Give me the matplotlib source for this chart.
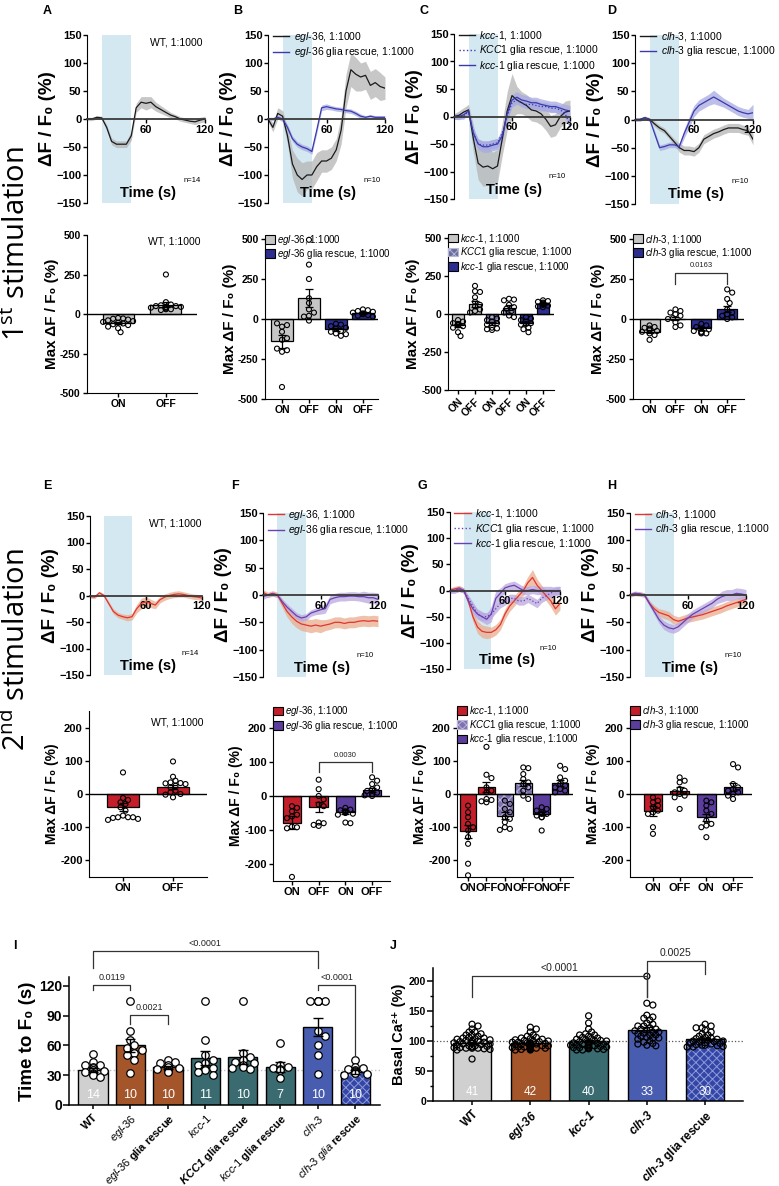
import matplotlib
matplotlib.use("Agg")
import matplotlib.pyplot as plt
import numpy as np
from matplotlib.lines import Line2D
from matplotlib.patches import Patch

plt.rcParams['font.family'] = ['Liberation Sans', 'DejaVu Sans']
plt.rcParams['mathtext.fontset'] = 'custom'
plt.rcParams['mathtext.rm'] = 'Liberation Sans'
plt.rcParams['mathtext.it'] = 'Liberation Sans:italic'
plt.rcParams['mathtext.bf'] = 'Liberation Sans:bold'
plt.rcParams['mathtext.bfit'] = 'Liberation Sans:italic:bold'
plt.rcParams['hatch.linewidth'] = 0.7

W, H = 779, 1186

# ---------------- colours ----------------
SHADE = '#d4e8f1'
BLACK_LINE, GRAY_BAND = '#1a1a1a', '#b5b5b5'
BLUE_LINE, BLUE_BAND = '#3a3aad', '#a7aae2'
RED_LINE, RED_BAND = '#e3342f', '#e9ad8e'
PURPLE_LINE, PURPLE_BAND = '#6842b0', '#b9a8e0'
GRAY_BAR, BLUE_BAR = '#c6c6c6', '#2b2e8c'
RED_BAR, PURPLE_BAR = '#c41e2a', '#5a3d9c'
WT_C, BROWN, TEAL, CLH_BLUE = '#d0d0d0', '#a5552a', '#3a6b70', '#485cb0'

# ---------------- trace data (time in s, dF/F0 in %) ----------------
TIME_S = [0, 5, 10, 15, 20, 25, 30, 35, 40, 45, 50, 55, 60, 65, 70, 75, 80, 85, 90, 95, 100, 105, 110, 115, 120]

A_WT = [0, 0, 3, 2, -15, -40, -45, -45, -45, -30, 20, 30, 28, 30, 22, 17, 12, 7, 4, 0, -2, -4, -5, -2, 0]
A_WT_SEM = [3, 3, 3, 3, 5, 6, 6, 6, 6, 8, 8, 10, 12, 10, 8, 7, 6, 5, 4, 4, 4, 4, 5, 5, 5]

B_MUT = [0, -15, 10, 5, -30, -80, -100, -108, -100, -100, -85, -75, -75, -70, -55, -20, 50, 88, 80, 75, 78, 60, 65, 58, 55]
B_MUT_SEM = [5, 8, 10, 10, 15, 25, 30, 30, 25, 25, 25, 20, 20, 20, 20, 25, 30, 30, 30, 25, 25, 25, 25, 25, 20]
B_RES = [0, 0, 3, 0, -15, -35, -45, -50, -53, -58, -20, 20, 22, 20, 18, 17, 15, 14, 10, 5, 3, 5, 3, 3, 3]
B_RES_SEM = [3, 3, 3, 3, 5, 5, 5, 5, 5, 5, 6, 5, 5, 4, 4, 4, 4, 4, 4, 4, 3, 3, 3, 3, 3]

C_MUT = [0, 2, 8, 12, -40, -85, -92, -90, -95, -90, -40, 10, 38, 30, 25, 20, 12, 10, 5, -5, -18, -15, 0, 8, 10]
C_MUT_SEM = [5, 8, 8, 10, 25, 30, 35, 35, 30, 30, 30, 35, 40, 25, 20, 20, 20, 20, 20, 20, 20, 20, 20, 20, 20]
C_KCC1 = [0, 0, 0, 10, -30, -50, -52, -52, -50, -48, -30, 0, 25, 30, 25, 22, 22, 20, 18, 18, 15, 15, 12, 5, -15]
C_KCC1_SEM = [5, 5, 5, 5, 8, 8, 8, 8, 8, 8, 8, 8, 8, 8, 8, 8, 8, 8, 8, 8, 8, 8, 8, 8, 8]
C_RES = [0, 0, 3, 10, -30, -50, -55, -55, -52, -50, -35, 5, 30, 35, 30, 28, 25, 25, 22, 20, 18, 18, 15, 12, 10]
C_RES_SEM = [5, 5, 5, 5, 10, 10, 10, 10, 10, 10, 10, 10, 10, 10, 10, 10, 10, 10, 10, 10, 10, 10, 10, 10, 10]

D_MUT = [0, 0, 3, 0, -8, -15, -20, -30, -40, -50, -55, -55, -57, -50, -35, -30, -25, -22, -18, -15, -15, -15, -18, -20, -35]
D_MUT_SEM = [3, 3, 3, 3, 5, 5, 5, 5, 6, 8, 8, 8, 8, 8, 8, 8, 8, 8, 8, 8, 8, 8, 8, 8, 10]
D_RES = [0, 0, 3, 0, -25, -50, -48, -45, -45, -48, -25, -5, 15, 25, 30, 35, 40, 35, 30, 25, 20, 15, 12, 10, 12]
D_RES_SEM = [3, 3, 3, 3, 5, 5, 5, 5, 5, 5, 8, 10, 10, 10, 10, 10, 12, 10, 8, 8, 8, 8, 8, 8, 15]

E_WT = [-2, -3, 5, 0, -15, -30, -37, -40, -42, -40, -25, -15, -12, -15, -18, -8, -3, 0, 2, 3, 2, 0, -2, -3, -5]
E_WT_SEM = [3, 3, 3, 3, 4, 5, 5, 5, 6, 6, 8, 10, 10, 8, 7, 6, 6, 6, 6, 6, 5, 5, 5, 5, 5]

F_MUT = [5, 0, 3, 0, -15, -30, -40, -48, -53, -55, -57, -55, -57, -55, -53, -50, -50, -52, -50, -50, -48, -47, -48, -47, -48]
F_MUT_SEM = [5, 5, 5, 5, 8, 10, 12, 12, 12, 12, 12, 12, 12, 10, 10, 10, 10, 10, 10, 10, 10, 10, 10, 10, 10]
F_RES = [-3, 0, 2, 0, -12, -22, -30, -38, -42, -40, -33, -30, -27, -25, -8, -5, -3, -3, -2, -2, -3, -3, -5, -5, -8]
F_RES_SEM = [5, 4, 4, 4, 5, 6, 6, 6, 6, 6, 6, 6, 8, 8, 8, 8, 8, 8, 8, 8, 8, 10, 10, 10, 12]

G_MUT = [0, 3, 5, 0, -20, -50, -70, -78, -80, -80, -75, -65, -45, -30, -20, -10, 0, 15, 25, 10, 0, -10, -20, -35, -25]
G_MUT_SEM = [5, 5, 5, 5, 8, 10, 12, 12, 12, 10, 10, 10, 10, 10, 10, 10, 10, 12, 15, 12, 10, 10, 12, 12, 12]
G_KCC1 = [0, 0, 3, 0, -15, -30, -45, -50, -50, -45, -35, -25, -20, -15, -15, -20, -20, -15, -20, -25, -15, -10, -5, 0, 0]
G_KCC1_SEM = [5, 5, 5, 5, 6, 8, 8, 8, 8, 8, 8, 8, 8, 8, 8, 8, 8, 8, 8, 8, 8, 8, 8, 8, 8]
G_RES = [0, 0, 3, 0, -20, -35, -45, -50, -55, -45, -15, -5, 5, 8, 10, 5, 0, 0, 2, 0, 0, 0, 0, -2, 0]
G_RES_SEM = [5, 5, 5, 5, 8, 10, 10, 10, 10, 15, 15, 10, 8, 8, 8, 8, 8, 8, 8, 8, 8, 8, 8, 8, 8]

H_MUT = [0, 3, 2, 0, -15, -25, -32, -35, -38, -45, -48, -45, -42, -40, -38, -36, -33, -30, -27, -24, -20, -17, -14, -11, -8]
H_MUT_SEM = [4, 4, 4, 4, 5, 6, 7, 8, 8, 8, 8, 8, 8, 8, 8, 8, 8, 8, 8, 8, 8, 8, 8, 8, 8]
H_RES = [0, 3, 2, 0, -15, -30, -45, -55, -60, -62, -58, -50, -42, -35, -30, -25, -20, -15, -8, -3, 0, 0, 3, 2, 0]
H_RES_SEM = [4, 4, 4, 4, 5, 6, 7, 8, 8, 8, 8, 8, 8, 8, 8, 8, 8, 8, 8, 10, 10, 10, 10, 10, 10]

# ---------------- max dF/F0 bar data ----------------
ONOFF2 = ['ON', 'OFF']
ONOFF4 = ['ON', 'OFF', 'ON', 'OFF']
ONOFF6 = ['ON', 'OFF', 'ON', 'OFF', 'ON', 'OFF']

A_MEANS = [-56, 59]
A_SEMS = [8, 15]
A_PTS = [[-25, -28, -30, -35, -40, -45, -50, -55, -60, -65, -70, -80, -90, -115],
         [250, 75, 60, 55, 50, 50, 45, 45, 40, 40, 35, 30, 30, 25]]

B_MEANS = [-140, 130, -65, 35]
B_SEMS = [40, 55, 8, 6]
B_PTS = [[-425, -205, -195, -185, -130, -120, -80, -48, -38, -27],
         [495, 340, 250, 130, 100, 60, 40, 20, 15, -10],
         [-30, -35, -45, -55, -60, -75, -80, -90, -95, -105],
         [60, 55, 50, 45, 40, 35, 30, 25, 20, 15]]

C_MEANS = [-73, 64, -62, 42, -62, 66]
C_SEMS = [10, 20, 12, 15, 12, 8]
C_PTS = [[-40, -50, -60, -65, -70, -75, -80, -90, -120, -145],
         [185, 150, 145, 110, 80, 60, 50, 30, 20, 10],
         [-20, -30, -40, -50, -60, -70, -90, -95, -100, -105],
         [100, 95, 90, 60, 45, 35, 20, 10, -10, -20],
         [-20, -30, -40, -50, -60, -65, -70, -90, -100, -120],
         [90, 85, 80, 75, 70, 65, 60, 55, 50, 45]]

D_MEANS = [-80, 2, -59, 61]
D_SEMS = [10, 10, 10, 20]
D_PTS = [[-40, -50, -55, -60, -70, -75, -80, -90, -100, -130],
         [60, 50, 40, 30, 20, 5, 0, -20, -40, -50],
         [-30, -40, -50, -60, -65, -75, -80, -85, -90, -90],
         [185, 165, 125, 100, 60, 40, 30, 20, 10, 0]]

E_MEANS = [-38, 22]
E_SEMS = [12, 6]
E_PTS = [[65, -12, -18, -25, -30, -40, -50, -65, -70, -70, -70, -72, -75, -78],
         [98, 52, 40, 35, 33, 32, 30, 25, 20, 10, 5, 0, -2, -10]]

F_MEANS = [-78, -33, -47, 18]
F_SEMS = [18, 15, 5, 5]
F_PTS = [[-30, -35, -45, -55, -60, -65, -90, -92, -95, -238],
         [48, 20, 0, -10, -25, -30, -78, -80, -85, -88],
         [-35, -40, -42, -45, -48, -50, -52, -55, -78, -80],
         [55, 45, 35, 25, 20, 15, 10, 5, 2, 0]]

G_MEANS = [-112, 20, -65, 33, -59, 33]
G_SEMS = [20, 15, 10, 10, 5, 10]
G_PTS = [[-35, -55, -70, -90, -100, -110, -130, -150, -210, -245],
         [142, 58, 48, 20, 10, 5, -15, -18, -22, -25],
         [-20, -30, -45, -55, -70, -75, -85, -100, -105, -108],
         [80, 78, 60, 45, 35, 30, 20, 10, -5, -15],
         [-40, -45, -50, -55, -60, -60, -65, -70, -70, -110],
         [85, 75, 50, 40, 30, 25, 20, 15, 10, 5]]

H_MEANS = [-50, 10, -70, 22]
H_SEMS = [15, 10, 10, 12]
H_PTS = [[-10, -20, -25, -35, -40, -50, -55, -60, -100, -120],
         [50, 40, 35, 15, 10, 5, 0, -5, -10, -45],
         [-20, -25, -35, -50, -60, -80, -90, -95, -100, -130],
         [90, 80, 30, 20, 15, 10, 5, 0, -5, -15]]

# ---------------- panel I: time to F0 ----------------
I_LABELS = [r'WT', r'$\mathit{egl}$-$\mathit{36}$', r'$\mathit{egl}$-$\mathit{36}$ glia rescue',
            r'$\mathit{kcc}$-$\mathit{1}$', r'$\mathbfit{KCC1}$ glia rescue',
            r'$\mathit{kcc}$-$\mathit{1}$ glia rescue', r'$\mathit{clh}$-$\mathit{3}$',
            r'$\mathit{clh}$-$\mathit{3\ glia}$ rescue']
I_MEANS = [35, 60, 38, 47, 48, 38, 79, 33]
I_SEMS = [2, 7, 1.5, 7, 7, 5, 9, 2]
I_PTS = [[51, 43, 40, 40, 38, 37, 35, 35, 34, 33, 32, 31, 30, 28],
         [105, 75, 66, 60, 57, 55, 52, 50, 45, 32],
         [45, 43, 42, 40, 38, 37, 36, 35, 34, 33],
         [105, 66, 50, 45, 42, 40, 37, 36, 35, 33, 30],
         [105, 52, 48, 45, 43, 42, 40, 38, 37, 36],
         [62, 40, 38, 37, 36, 35, 27],
         [105, 105, 105, 105, 105, 75, 70, 60, 50, 31],
         [45, 38, 37, 36, 35, 34, 33, 32, 31, 30]]

# ---------------- panel J: basal Ca2+ ----------------
J_LABELS = [r'WT', r'$\mathbfit{egl}$-$\mathbfit{36}$', r'$\mathbfit{kcc}$-$\mathbfit{1}$',
            r'$\mathbfit{clh}$-$\mathbfit{3}$', r'$\mathbfit{clh}$-$\mathbfit{3}$ glia rescue']
J_MEANS = [97, 96, 100, 119, 103]
J_SEMS = [1.5, 1.2, 1.7, 4.5, 2]
J_PTS = [[128, 125, 120, 115, 115, 112, 110, 110, 108, 106, 105, 105, 104, 103, 102, 101, 100, 100, 99, 98,
          97, 97, 96, 95, 95, 94, 93, 92, 92, 91, 90, 90, 89, 89, 88, 88, 88, 87, 86, 85, 70],
         [123, 120, 115, 110, 108, 106, 105, 104, 103, 102, 101, 100, 100, 99, 98, 98, 97, 97, 96, 96,
          95, 95, 94, 94, 93, 93, 92, 92, 91, 91, 90, 90, 89, 89, 88, 88, 87, 87, 86, 86, 85, 85],
         [142, 130, 120, 115, 112, 110, 110, 108, 106, 105, 104, 103, 102, 101, 100, 100, 99, 98, 97, 97,
          96, 95, 95, 94, 93, 93, 92, 92, 91, 90, 90, 89, 89, 88, 88, 87, 87, 86, 85, 85],
         [208, 163, 160, 143, 140, 138, 135, 130, 128, 125, 125, 122, 120, 120, 118, 117, 115, 115, 113, 112,
          110, 110, 108, 106, 105, 105, 103, 100, 98, 96, 95, 93, 92],
         [128, 125, 122, 122, 118, 115, 112, 110, 108, 106, 105, 104, 103, 102, 101, 100, 100, 99, 98, 97,
          96, 96, 95, 94, 93, 93, 92, 91, 90, 90]]

fig = plt.figure(figsize=(W / 100, H / 100), dpi=100)


def add_ax(box):
    l, t, r, b = box
    return fig.add_axes([l / W, 1 - b / H, (r - l) / W, (b - t) / H])


def bold_ticks(ax):
    for lab in ax.get_xticklabels() + ax.get_yticklabels():
        lab.set_fontweight('bold')


def swarm(vals, xs, ys, diam, limit, sep=0.9):
    # simple beeswarm: xs/ys are pixels per data unit
    placed, offs = [], []
    steps = [0]
    for k in range(1, 14):
        steps += [k, -k]
    for v in vals:
        chosen = 0.0
        for k in steps:
            dx = k * diam * 0.5 / xs
            if abs(dx) > limit:
                continue
            if all(((v - pv) * ys) ** 2 + ((dx - po) * xs) ** 2 >= (diam * sep) ** 2 for pv, po in placed):
                chosen = dx
                break
        placed.append((v, chosen))
        offs.append(chosen)
    return np.array(offs)


def draw_trace(box, series, legend=None, note=None, n_text='n=10'):
    ax = add_ax(box)
    ax.axvspan(15, 45, color=SHADE, lw=0, zorder=0)
    handles = []
    for vals, sem, lc, bc, ls in series:
        v = np.asarray(vals, float)
        s = np.asarray(sem, float)
        ax.fill_between(TIME_S, v - s, v + s, color=bc, alpha=0.75, lw=0, zorder=1)
        ax.plot(TIME_S, v, color=lc, lw=0.9, ls=ls, zorder=2)
        handles.append(Line2D([], [], color=lc, lw=1.0, ls=ls))
    ax.set_xlim(0, 120)
    ax.set_ylim(-150, 150)
    ax.spines['top'].set_visible(False)
    ax.spines['right'].set_visible(False)
    ax.spines['bottom'].set_position(('data', 0))
    ax.spines['bottom'].set_color('#3a3a3a')
    ax.spines['bottom'].set_linewidth(1.3)
    ax.spines['bottom'].set_zorder(3)
    ax.set_xticks([60, 120])
    ax.set_yticks([-150, -100, -50, 0, 50, 100, 150])
    ax.tick_params(labelsize=8, width=1, length=3, pad=1)
    bold_ticks(ax)
    ax.set_ylabel('ΔF / F₀ (%)', fontsize=13.5, fontweight='bold', labelpad=0)
    ax.text(62, -133, 'Time (s)', ha='center', va='center', fontsize=10.5, fontweight='bold', zorder=5)
    ax.text(107, -110, n_text, ha='center', va='center', fontsize=5.5)
    if note:
        ax.text(91, 136, note, ha='center', va='center', fontsize=7.5)
    if legend:
        ax.legend(handles, legend, loc='upper left', bbox_to_anchor=(0.04, 1.03), frameon=False,
                  fontsize=7.5, handlelength=1.6, handletextpad=0.4, labelspacing=0.12,
                  borderaxespad=0, borderpad=0)
    return ax


def draw_bars(box, means, sems, points, styles, xlim, ylim, yticks, width, xlabels,
              legend=None, note=None, rotate=False, ylab_fs=11, tick_fs=7.5, dot_px=5.0):
    ax = add_ax(box)
    l, t, r, b = box
    xs = (r - l) / (xlim[1] - xlim[0])
    ys = (b - t) / (ylim[1] - ylim[0])
    for i, (m, s, pts, st) in enumerate(zip(means, sems, points, styles)):
        face, hatch, hcol = st
        if hatch:
            ax.bar(i, m, width, color=face, edgecolor=hcol, hatch=hatch, lw=0, zorder=1)
            ax.bar(i, m, width, fill=False, edgecolor='black', lw=0.9, zorder=2)
        else:
            ax.bar(i, m, width, color=face, edgecolor='black', lw=0.9, zorder=1)
        offs = swarm(pts, xs, ys, dot_px, width * 0.5)
        ax.scatter(i + offs, pts, s=(dot_px * 0.72) ** 2, facecolor='none', edgecolor='black',
                   lw=0.8, zorder=4, clip_on=False)
        ax.errorbar(i, m, yerr=s, fmt='none', ecolor='black', elinewidth=0.9, capsize=3,
                    capthick=0.9, zorder=5)
    ax.axhline(0, color='black', lw=1.0, zorder=3)
    ax.set_xlim(*xlim)
    ax.set_ylim(*ylim)
    ax.spines['top'].set_visible(False)
    ax.spines['right'].set_visible(False)
    ax.set_xticks(range(len(means)))
    ax.set_yticks(yticks)
    ax.set_yticklabels([str(v) for v in yticks])
    if rotate:
        ax.set_xticklabels(xlabels, rotation=45, ha='right', rotation_mode='anchor')
    else:
        ax.set_xticklabels(xlabels)
    ax.tick_params(labelsize=tick_fs, width=1, length=3, pad=1.5)
    bold_ticks(ax)
    ax.set_ylabel('Max ΔF / F₀ (%)', fontsize=ylab_fs, fontweight='bold', labelpad=1)
    if note:
        ax.text(note[0], note[1], note[2], transform=ax.transAxes, ha='center', va='center', fontsize=7.5)
    if legend:
        handles = []
        for face, hatch, hcol in legend[0]:
            if hatch:
                handles.append(Patch(facecolor=face, edgecolor=hcol, hatch=hatch, lw=0.8))
            else:
                handles.append(Patch(facecolor=face, edgecolor='black', lw=0.8))
        ax.legend(handles, legend[1], loc='upper left', bbox_to_anchor=(0.0, 1.04), frameon=False,
                  fontsize=7, handlelength=1.0, handleheight=1.0, handletextpad=0.2,
                  labelspacing=0.05, borderaxespad=0, borderpad=0)
    return ax


def bracket(ax, x1, x2, y, y1, y2, text, fs, gap):
    ax.plot([x1, x1, x2, x2], [y1, y, y, y2], color='#333333', lw=0.9, clip_on=False, zorder=6)
    ax.text((x1 + x2) / 2, y + gap, text, ha='center', va='bottom', fontsize=fs, color='#222222',
            clip_on=False)


# ---------------- row 1 traces ----------------
draw_trace((87, 35, 205, 203), [(A_WT, A_WT_SEM, BLACK_LINE, GRAY_BAND, '-')], note='WT, 1:1000', n_text='n=14')
draw_trace((268, 35, 385, 203),
           [(B_MUT, B_MUT_SEM, BLACK_LINE, GRAY_BAND, '-'), (B_RES, B_RES_SEM, BLUE_LINE, BLUE_BAND, '-')],
           legend=[r'$\mathit{egl}$-$\mathit{36}$, 1:1000', r'$\mathit{egl}$-$\mathit{36}$ glia rescue, 1:1000'])
draw_trace((454, 34, 570, 199),
           [(C_MUT, C_MUT_SEM, BLACK_LINE, GRAY_BAND, '-'), (C_KCC1, C_KCC1_SEM, BLUE_LINE, BLUE_BAND, ':'),
            (C_RES, C_RES_SEM, BLUE_LINE, BLUE_BAND, '-')],
           legend=[r'$\mathit{kcc}$-$\mathit{1}$, 1:1000', r'$\mathit{KCC1}$ glia rescue, 1:1000',
                   r'$\mathit{kcc}$-$\mathit{1}$ glia rescue, 1:1000'])
draw_trace((635, 35, 753, 204),
           [(D_MUT, D_MUT_SEM, BLACK_LINE, GRAY_BAND, '-'), (D_RES, D_RES_SEM, BLUE_LINE, BLUE_BAND, '-')],
           legend=[r'$\mathit{clh}$-$\mathit{3}$, 1:1000', r'$\mathit{clh}$-$\mathit{3}$ glia rescue, 1:1000'])

# ---------------- row 1 bars ----------------
GR = (GRAY_BAR, None, None)
BL = (BLUE_BAR, None, None)
CK1 = ('#6c6f9e', 'xxxx', '#b4b7d6')
Y1 = [-500, -250, 0, 250, 500]
draw_bars((87, 235, 197, 393), A_MEANS, A_SEMS, A_PTS, [GR, GR], (-0.65, 1.65), (-500, 500), Y1, 0.65,
          ONOFF2, note=(0.79, 0.96, 'WT, 1:1000'))
draw_bars((265, 239, 378, 399), B_MEANS, B_SEMS, B_PTS, [GR, GR, BL, BL], (-0.63, 3.56), (-500, 500), Y1, 0.8,
          ONOFF4, legend=([GR, BL], [r'$\mathit{egl}$-$\mathit{36}$, 1:1000',
                                     r'$\mathit{egl}$-$\mathit{36}$ glia rescue, 1:1000']))
draw_bars((448, 238, 554, 390), C_MEANS, C_SEMS, C_PTS, [GR, GR, CK1, CK1, BL, BL], (-0.59, 5.65), (-500, 500),
          Y1, 0.68, ONOFF6, rotate=True,
          legend=([GR, CK1, BL], [r'$\mathit{kcc}$-$\mathit{1}$, 1:1000', r'$\mathit{KCC1}$ glia rescue, 1:1000',
                                  r'$\mathit{kcc}$-$\mathit{1}$ glia rescue, 1:1000']))
axD = draw_bars((633, 239, 744, 399), D_MEANS, D_SEMS, D_PTS, [GR, GR, BL, BL], (-0.64, 3.65), (-500, 500), Y1,
                0.77, ONOFF4, legend=([GR, BL], [r'$\mathit{clh}$-$\mathit{3}$, 1:1000',
                                                r'$\mathit{clh}$-$\mathit{3}$ glia rescue, 1:1000']))
bracket(axD, 1, 3, 287, 220, 220, '0.0163', 5.5, 25)

# ---------------- row 2 traces ----------------
draw_trace((90, 516, 202, 675), [(E_WT, E_WT_SEM, RED_LINE, RED_BAND, '-')], note='WT, 1:1000', n_text='n=14')
draw_trace((263, 513, 378, 677),
           [(F_MUT, F_MUT_SEM, RED_LINE, RED_BAND, '-'), (F_RES, F_RES_SEM, PURPLE_LINE, PURPLE_BAND, '-')],
           legend=[r'$\mathit{egl}$-$\mathit{36}$, 1:1000', r'$\mathit{egl}$-$\mathit{36}$ glia rescue, 1:1000'])
draw_trace((450, 512, 560, 669),
           [(G_MUT, G_MUT_SEM, RED_LINE, RED_BAND, '-'), (G_KCC1, G_KCC1_SEM, PURPLE_LINE, PURPLE_BAND, ':'),
            (G_RES, G_RES_SEM, PURPLE_LINE, PURPLE_BAND, '-')],
           legend=[r'$\mathit{kcc}$-$\mathit{1}$, 1:1000', r'$\mathit{KCC1}$ glia rescue, 1:1000',
                   r'$\mathit{kcc}$-$\mathit{1}$ glia rescue, 1:1000'])
draw_trace((630, 513, 746, 677),
           [(H_MUT, H_MUT_SEM, RED_LINE, RED_BAND, '-'), (H_RES, H_RES_SEM, PURPLE_LINE, PURPLE_BAND, '-')],
           legend=[r'$\mathit{clh}$-$\mathit{3}$, 1:1000', r'$\mathit{clh}$-$\mathit{3}$ glia rescue, 1:1000'])

# ---------------- row 2 bars ----------------
RD = (RED_BAR, None, None)
PU = (PURPLE_BAR, None, None)
CK2 = ('#7d72ad', 'xxxx', '#bdb4dc')
Y2 = [-200, -100, 0, 100, 200]
draw_bars((89, 711, 207, 877), E_MEANS, E_SEMS, E_PTS, [RD, RD], (-0.68, 1.68), (-250, 250), Y2, 0.65,
          ONOFF2, note=(0.745, 0.93, 'WT, 1:1000'), ylab_fs=10, tick_fs=8)
axF = draw_bars((273, 711, 390, 881), F_MEANS, F_SEMS, F_PTS, [RD, RD, PU, PU], (-0.71, 3.67), (-250, 250), Y2,
                0.69, ONOFF4, ylab_fs=10, tick_fs=8,
                legend=([RD, PU], [r'$\mathit{egl}$-$\mathit{36}$, 1:1000',
                                   r'$\mathit{egl}$-$\mathit{36}$ glia rescue, 1:1000']))
bracket(axF, 1, 3, 100, 72, 72, '0.0030', 5.5, 8)
draw_bars((457, 711, 573, 877), G_MEANS, G_SEMS, G_PTS, [RD, RD, CK2, CK2, PU, PU], (-0.6, 5.7), (-250, 250),
          Y2, 0.9, ONOFF6, ylab_fs=10, tick_fs=8,
          legend=([RD, CK2, PU], [r'$\mathit{kcc}$-$\mathit{1}$, 1:1000', r'$\mathit{KCC1}$ glia rescue, 1:1000',
                                  r'$\mathit{kcc}$-$\mathit{1}$ glia rescue, 1:1000']))
draw_bars((630, 711, 752, 877), H_MEANS, H_SEMS, H_PTS, [RD, RD, PU, PU], (-0.86, 3.71), (-250, 250), Y2,
          0.69, ONOFF4, ylab_fs=10, tick_fs=8,
          legend=([RD, PU], [r'$\mathit{clh}$-$\mathit{3}$, 1:1000',
                             r'$\mathit{clh}$-$\mathit{3}$ glia rescue, 1:1000']))


# ---------------- panels I and J ----------------
def draw_summary(box, means, sems, points, styles, xlim, ylim, width, dot_px, n_y, n_fs, dot_face, sep):
    ax = add_ax(box)
    l, t, r, b = box
    xs = (r - l) / (xlim[1] - xlim[0])
    ys = (b - t) / (ylim[1] - ylim[0])
    for i, (m, s, pts, st) in enumerate(zip(means, sems, points, styles)):
        face, hatch, hcol = st
        if hatch:
            ax.bar(i, m, width, color=face, edgecolor=hcol, hatch=hatch, lw=0, zorder=1)
            ax.bar(i, m, width, fill=False, edgecolor='black', lw=1.0, zorder=2)
        else:
            ax.bar(i, m, width, color=face, edgecolor='black', lw=1.0, zorder=1)
        offs = swarm(pts, xs, ys, dot_px, width * 0.5, sep)
        ax.scatter(i + offs, pts, s=(dot_px * 0.72) ** 2, facecolor=dot_face, edgecolor='black',
                   lw=0.9, zorder=4, clip_on=False)
        ax.errorbar(i, m, yerr=s, fmt='none', ecolor='black', elinewidth=1.0, capsize=3.5,
                    capthick=1.0, zorder=5)
        ax.text(i, n_y, str(len(pts)), ha='center', va='center', color='white', fontsize=n_fs, zorder=6)
    ax.set_xlim(*xlim)
    ax.set_ylim(*ylim)
    ax.spines['top'].set_visible(False)
    ax.spines['right'].set_visible(False)
    ax.spines['left'].set_linewidth(1.1)
    ax.spines['bottom'].set_linewidth(1.1)
    ax.set_xticks(range(len(means)))
    return ax


CKB = ('#3346a6', 'xxxx', '#8f9ad8')
axI = draw_summary((69, 977, 380, 1105), I_MEANS, I_SEMS, I_PTS,
                   [(WT_C, None, None), (BROWN, None, None), (BROWN, None, None), (TEAL, None, None),
                    (TEAL, None, None), (TEAL, None, None), (CLH_BLUE, None, None), CKB],
                   (-0.64, 7.66), (0, 129), 0.78, 7.5, 10, 9, 'white', 0.9)
axI.axhline(I_MEANS[0], color='#c0c0c0', lw=1.0, ls=':', zorder=0)
axI.set_yticks([0, 30, 60, 90, 120])
axI.set_xticklabels(I_LABELS, rotation=45, ha='right', rotation_mode='anchor')
axI.tick_params(axis='y', labelsize=10, width=1.1, length=4, pad=1)
axI.tick_params(axis='x', labelsize=8, width=1.1, length=3, pad=2)
bold_ticks(axI)
axI.set_ylabel('Time to F₀ (s)', fontsize=13.5, fontweight='bold', labelpad=2)
bracket(axI, 0, 6, 155, 138, 138, '<0.0001', 6.5, 3)
bracket(axI, 0, 1, 121, 116, 116, '0.0119', 6.5, 3)
bracket(axI, 1, 2, 91, 82, 82, '0.0021', 6.5, 3)
bracket(axI, 6, 7, 121, 116, 49, '<0.0001', 6.5, 3)

axJ = draw_summary((433, 968, 743, 1101), J_MEANS, J_SEMS, J_PTS,
                   [(WT_C, None, None), (BROWN, None, None), (TEAL, None, None), (CLH_BLUE, None, None), CKB],
                   (-0.67, 4.65), (0, 221.7), 0.66, 6.0, 15, 8.5, 'none', 0.6)
axJ.axhline(100, color='#555555', lw=0.9, ls=':', zorder=3)
axJ.set_yticks([0, 50, 100, 150, 200])
axJ.set_yticks([25, 75, 125, 175], minor=True)
axJ.set_xticklabels(J_LABELS, rotation=45, ha='right', rotation_mode='anchor')
axJ.tick_params(axis='y', labelsize=7.5, width=1.1, length=4, pad=1)
axJ.tick_params(axis='y', which='minor', width=1.0, length=2.5)
axJ.tick_params(axis='x', labelsize=8.5, width=1.1, length=3, pad=2)
bold_ticks(axJ)
axJ.set_ylabel('Basal Ca²⁺ (%)', fontsize=10.5, fontweight='bold', labelpad=2)
bracket(axJ, 0, 3, 208, 173, 173, '<0.0001', 7.5, 5)
bracket(axJ, 3, 4, 234, 173, 212, '0.0025', 7.5, 5)

# ---------------- panel letters and row titles ----------------
for letter, x, y in [('A', 43, 11), ('B', 233, 11), ('C', 419, 11), ('D', 607, 11),
                     ('E', 43, 486), ('F', 231, 486), ('G', 418, 486), ('H', 607, 486),
                     ('I', 13, 946), ('J', 390, 946)]:
    fig.text(x / W, 1 - y / H, letter, ha='left', va='center', fontsize=9, fontweight='bold')

fig.text(17 / W, 1 - 243 / H, r'1$^{\mathregular{st}}$ stimulation', rotation=90, ha='center', va='center',
         fontsize=21, family=['Open Sans', 'DejaVu Sans'])
fig.text(17 / W, 1 - 649 / H, r'2$^{\mathregular{nd}}$ stimulation', rotation=90, ha='center', va='center',
         fontsize=21, family=['Open Sans', 'DejaVu Sans'])

fig.savefig('out.png', dpi=100, facecolor='white')
